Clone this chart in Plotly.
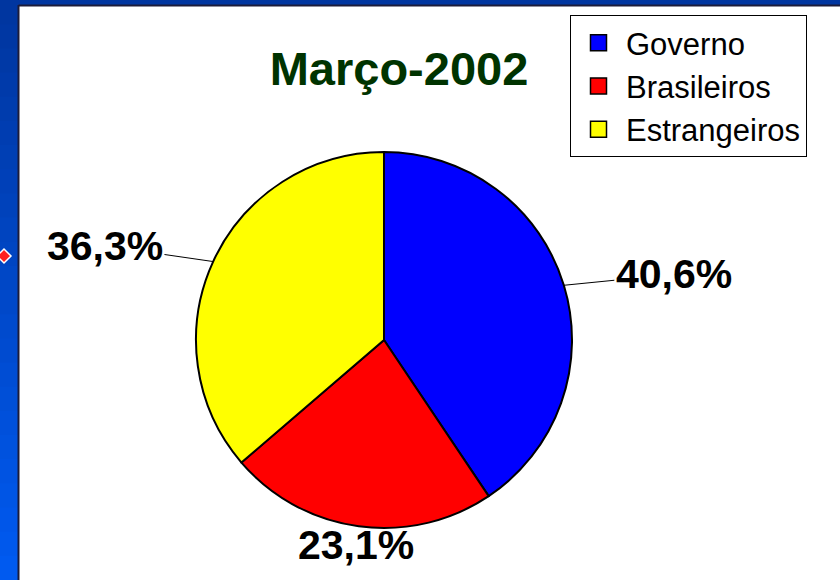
import math
import plotly.graph_objects as go

categories = ["Governo", "Brasileiros", "Estrangeiros"]
shares = [40.6, 23.1, 36.3]
slice_colors = ["#0000FF", "#FF0000", "#FFFF00"]
title_text = "Março-2002"

W, H = 840, 580
FONT = "Liberation Sans, Arial, sans-serif"

def px(x):
    return x / W

def py(y):
    return 1 - y / H

# pie geometry (pixels)
CX, CY, R = 384, 340, 188

fig = go.Figure()

fig.add_trace(go.Pie(
    labels=categories,
    values=shares,
    marker=dict(colors=slice_colors, line=dict(color="black", width=2)),
    sort=False,
    direction="clockwise",
    rotation=0,
    textinfo="none",
    showlegend=False,
    domain=dict(x=[px(CX - R), px(CX + R)], y=[py(CY + R), py(CY - R)]),
    hoverinfo="label+percent",
))

# legend entries (larger square symbols)
for name, col in zip(categories, slice_colors):
    fig.add_trace(go.Scatter(
        x=[None], y=[None], mode="markers", name=name,
        marker=dict(symbol="square", size=22, color=col, line=dict(color="black", width=1.5)),
        showlegend=True,
    ))

# percentage labels placed outside the slices, with leader lines
annotations = []
total = sum(shares)
cum = 0.0
for v in shares:
    mid = (cum + v / 2) / total * 2 * math.pi
    cum += v
    s, c = math.sin(mid), math.cos(mid)
    hx, hy = CX + R * s, CY - R * c
    side = abs(s) > 0.5
    k = 1.2 if side else 1.1
    lx, ly = CX + R * k * s, CY - R * k * c
    if side:
        lx += 74 * (1 if s > 0 else -1)
    annotations.append(dict(
        x=px(hx), y=py(hy), xref="paper", yref="paper",
        ax=lx - hx, ay=ly - hy,
        text=("%.1f%%" % v).replace(".", ","),
        showarrow=True, arrowhead=0, arrowwidth=1, arrowcolor="black",
        font=dict(family=FONT, size=41, color="black", weight="bold"),
    ))

shapes = []
# blue gradient frame (left strip and top strip)
n = 24
c0 = (0x00, 0x36, 0xA0)
c1 = (0x00, 0x5A, 0xF0)
for i in range(n):
    t = i / (n - 1)
    col = "rgb(%d,%d,%d)" % tuple(int(a + (b - a) * t) for a, b in zip(c0, c1))
    y0 = H * i / n
    y1 = min(H, H * (i + 1) / n + 2)
    shapes.append(dict(type="rect", xref="paper", yref="paper",
                       x0=0, x1=px(19), y0=py(y1), y1=py(y0),
                       fillcolor=col, line=dict(width=0), layer="below"))
shapes.append(dict(type="rect", xref="paper", yref="paper",
                   x0=px(18), x1=1, y0=py(6), y1=1,
                   fillcolor="rgb(0,54,160)", line=dict(width=0), layer="below"))
# dark border of the white panel
shapes.append(dict(type="line", xref="paper", yref="paper",
                   x0=px(18.5), x1=px(18.5), y0=0, y1=py(5),
                   line=dict(color="#1c1c3a", width=2)))
shapes.append(dict(type="line", xref="paper", yref="paper",
                   x0=px(18.5), x1=1, y0=py(5.5), y1=py(5.5),
                   line=dict(color="#1c1c3a", width=2)))
# tiny red bullet at left edge
shapes.append(dict(type="path", xref="paper", yref="paper",
                   path="M %f %f L %f %f L %f %f L %f %f Z" % (
                       px(-3), py(256), px(4), py(249), px(11), py(256), px(4), py(263)),
                   fillcolor="#ff2020", line=dict(color="white", width=1.5)))

fig.update_layout(
    width=W, height=H,
    margin=dict(l=0, r=0, t=0, b=0),
    paper_bgcolor="white",
    plot_bgcolor="white",
    xaxis=dict(visible=False, domain=[0, 1]),
    yaxis=dict(visible=False, domain=[0, 1]),
    shapes=shapes,
    annotations=annotations,
    title=dict(text=title_text, x=px(399), y=py(69), xref="paper", yref="paper",
               xanchor="center", yanchor="middle",
               font=dict(family=FONT, size=47, color="#003300", weight="bold")),
    legend=dict(x=px(570), y=py(15), xanchor="left", yanchor="top",
                bgcolor="white", bordercolor="black", borderwidth=1,
                font=dict(family=FONT, size=31, color="black"),
                itemwidth=45, tracegroupgap=4),
    showlegend=True,
)

fig.write_html("out.html", config={"displayModeBar": False},
               post_script="document.body.style.margin='0px';")
